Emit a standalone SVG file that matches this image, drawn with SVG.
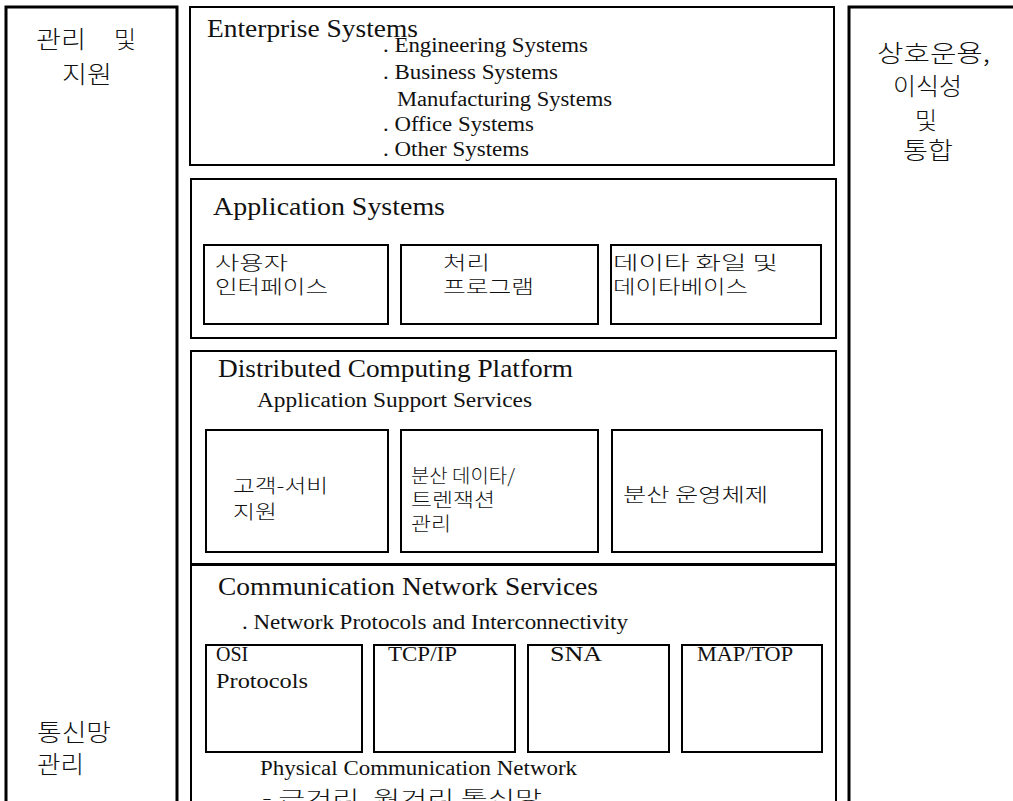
<svg xmlns="http://www.w3.org/2000/svg" width="1013" height="801" viewBox="0 0 1013 801">
  <style>
    .box { fill: none; stroke: #000; stroke-width: 2; }
    .thick { fill: none; stroke: #000; stroke-width: 3; }
    .en { font-family: "Liberation Serif", "Times New Roman", serif; fill: #111; }
    .title { font-size: 25px; }
    .item { font-size: 20px; }
    .ko { font-family: "Noto Sans CJK KR", "Noto Sans", sans-serif; font-size: 19px; fill: #111; font-weight: 300; }
    .side { font-size: 24px; }
  </style>
  <rect width="1013" height="801" fill="#fff"/>

  <!-- left column: management and support -->
  <g id="mgmt">
    <path class="thick" d="M6,801 V7 H177 V801"/>
    <text class="ko side" x="36" y="48" textLength="50" lengthAdjust="spacingAndGlyphs">관리</text>
    <text class="ko side" x="114" y="48">및</text>
    <text class="ko side" x="62" y="83" textLength="50" lengthAdjust="spacingAndGlyphs">지원</text>
    <text class="ko side" x="37" y="741" textLength="74" lengthAdjust="spacingAndGlyphs">통신망</text>
    <text class="ko side" x="37" y="773" textLength="47" lengthAdjust="spacingAndGlyphs">관리</text>
  </g>

  <!-- right column: interoperability, portability and integration -->
  <g id="interop">
    <path class="thick" d="M849,801 V7 H1013"/>
    <text class="ko side" x="877" y="62" textLength="113" lengthAdjust="spacingAndGlyphs">상호운용,</text>
    <text class="ko side" x="893" y="95" textLength="69" lengthAdjust="spacingAndGlyphs">이식성</text>
    <text class="ko side" x="915" y="129">및</text>
    <text class="ko side" x="903" y="159" textLength="50" lengthAdjust="spacingAndGlyphs">통합</text>
  </g>

  <!-- enterprise systems layer -->
  <g id="enterprise">
    <rect class="box" x="190" y="7" width="644" height="158"/>
    <text class="en title" x="207" y="37" textLength="211" lengthAdjust="spacingAndGlyphs">Enterprise Systems</text>
    <text class="en item" x="383" y="52" textLength="205" lengthAdjust="spacingAndGlyphs">. Engineering Systems</text>
    <text class="en item" x="383" y="79" textLength="175" lengthAdjust="spacingAndGlyphs">. Business Systems</text>
    <text class="en item" x="397" y="106" textLength="215" lengthAdjust="spacingAndGlyphs">Manufacturing Systems</text>
    <text class="en item" x="383" y="131" textLength="151" lengthAdjust="spacingAndGlyphs">. Office Systems</text>
    <text class="en item" x="383" y="156" textLength="146" lengthAdjust="spacingAndGlyphs">. Other Systems</text>
  </g>

  <!-- application systems layer -->
  <g id="application">
    <rect class="box" x="191" y="179" width="645" height="159"/>
    <text class="en title" x="213" y="215" textLength="232" lengthAdjust="spacingAndGlyphs">Application Systems</text>
    <g id="app-ui">
      <rect class="box" x="204" y="245" width="184" height="79"/>
      <text class="ko" x="215" y="270" textLength="73" lengthAdjust="spacingAndGlyphs">사용자</text>
      <text class="ko" x="215" y="294" textLength="113" lengthAdjust="spacingAndGlyphs">인터페이스</text>
    </g>
    <g id="app-proc">
      <rect class="box" x="401" y="245" width="197" height="79"/>
      <text class="ko" x="443" y="270" textLength="47" lengthAdjust="spacingAndGlyphs">처리</text>
      <text class="ko" x="443" y="294" textLength="91" lengthAdjust="spacingAndGlyphs">프로그램</text>
    </g>
    <g id="app-data">
      <rect class="box" x="611" y="245" width="210" height="79"/>
      <text class="ko" x="613" y="270" textLength="165" lengthAdjust="spacingAndGlyphs">데이타 화일 및</text>
      <text class="ko" x="613" y="294" textLength="135" lengthAdjust="spacingAndGlyphs">데이타베이스</text>
    </g>
  </g>

  <!-- distributed computing platform layer -->
  <g id="platform">
    <rect class="box" x="191" y="351" width="645" height="213"/>
    <text class="en title" x="218" y="377" textLength="355" lengthAdjust="spacingAndGlyphs">Distributed Computing Platform</text>
    <text class="en item" x="257" y="407" textLength="275" lengthAdjust="spacingAndGlyphs">Application Support Services</text>
    <g id="svc-cs">
      <rect class="box" x="206" y="430" width="182" height="122"/>
      <text class="ko" x="233" y="493" textLength="95" lengthAdjust="spacingAndGlyphs">고객-서비</text>
      <text class="ko" x="233" y="519" textLength="44" lengthAdjust="spacingAndGlyphs">지원</text>
    </g>
    <g id="svc-dtx">
      <rect class="box" x="401" y="430" width="197" height="122"/>
      <text class="ko" x="411" y="483" textLength="104" lengthAdjust="spacingAndGlyphs">분산 데이타/</text>
      <text class="ko" x="411" y="507" textLength="84" lengthAdjust="spacingAndGlyphs">트렌잭션</text>
      <text class="ko" x="411" y="531" textLength="40" lengthAdjust="spacingAndGlyphs">관리</text>
    </g>
    <g id="svc-os">
      <rect class="box" x="612" y="430" width="210" height="122"/>
      <text class="ko" x="623" y="502" textLength="145" lengthAdjust="spacingAndGlyphs">분산 운영체제</text>
    </g>
  </g>

  <!-- communication network services layer -->
  <g id="network">
    <path class="box" d="M191,801 V565 H836 V801"/>
    <text class="en title" x="218" y="595" textLength="380" lengthAdjust="spacingAndGlyphs">Communication Network Services</text>
    <text class="en item" x="242" y="629" textLength="386" lengthAdjust="spacingAndGlyphs">. Network Protocols and Interconnectivity</text>
    <g id="proto-osi">
      <rect class="box" x="206" y="645" width="156" height="107"/>
      <text class="en item" x="216" y="661">OSI</text>
      <text class="en item" x="216" y="688" textLength="92" lengthAdjust="spacingAndGlyphs">Protocols</text>
    </g>
    <g id="proto-tcpip">
      <rect class="box" x="374" y="645" width="141" height="107"/>
      <text class="en item" x="388" y="661" textLength="69" lengthAdjust="spacingAndGlyphs">TCP/IP</text>
    </g>
    <g id="proto-sna">
      <rect class="box" x="528" y="645" width="141" height="107"/>
      <text class="en item" x="550" y="661" textLength="52" lengthAdjust="spacingAndGlyphs">SNA</text>
    </g>
    <g id="proto-maptop">
      <rect class="box" x="682" y="645" width="140" height="107"/>
      <text class="en item" x="697" y="661" textLength="96" lengthAdjust="spacingAndGlyphs">MAP/TOP</text>
    </g>
    <text class="en item" x="260" y="775" textLength="317" lengthAdjust="spacingAndGlyphs">Physical Communication Network</text>
    <text class="ko" x="262" y="805" textLength="280" lengthAdjust="spacingAndGlyphs">- 근거리, 원거리 통신망</text>
  </g>

  <!-- no connectors in this layered chart -->
  <g id="connectors"/>
</svg>
